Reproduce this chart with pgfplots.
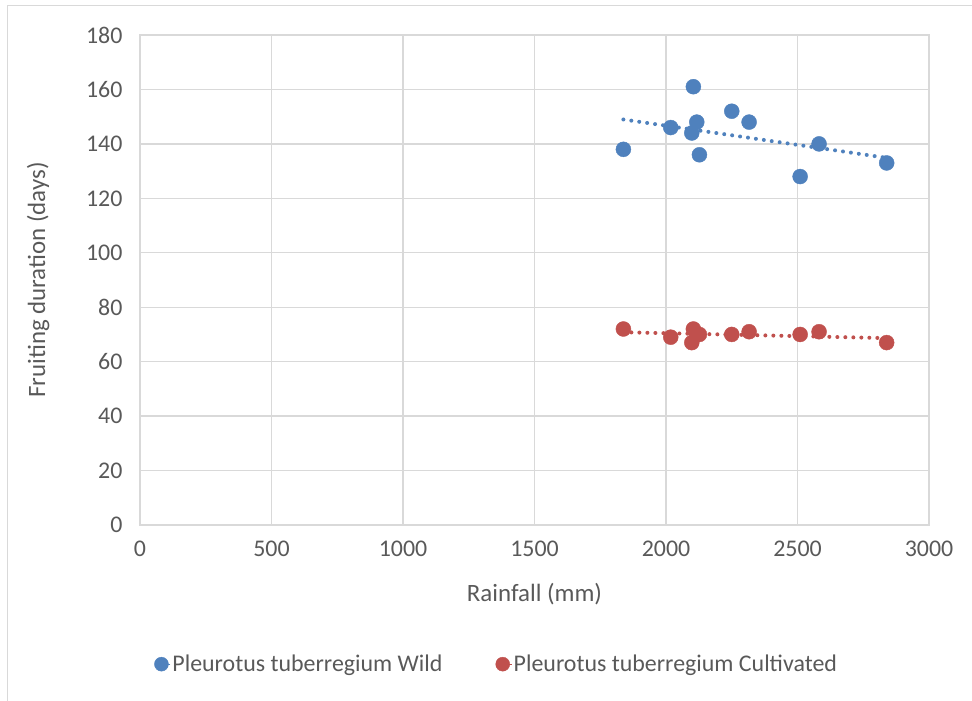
\documentclass[border=0pt]{standalone}
\usepackage{pgfplots}
\pgfplotsset{compat=1.18}
\usepackage{pgfplotstable}
\usepackage{fontspec}
\setmainfont{Carlito}

\definecolor{wildblue}{HTML}{4F81BD}
\definecolor{cultred}{HTML}{C0504D}
\definecolor{gridgray}{HTML}{D9D9D9}
\definecolor{textgray}{HTML}{595959}

% Rainfall (mm) vs fruiting duration (days)
\pgfplotstableread{
rain days
1838 138
2018 146
2104 161
2117 148
2098 144
2127 136
2250 152
2316 148
2510 128
2582 140
2839 133
}\wild

\pgfplotstableread{
rain days
1838 72
2018 69
2104 72
2117 70
2098 67
2127 70
2250 70
2316 71
2510 70
2582 71
2839 67
}\cultivated

\begin{document}
\begin{tikzpicture}
\useasboundingbox (0bp,0bp) rectangle (972bp,701bp);
\draw[gridgray, line width=1bp] (7bp,-10bp) -- (7bp,695bp) -- (990bp,695bp);
\begin{axis}[
  at={(140bp,176bp)}, anchor=south west,
  scale only axis, width=789bp, height=490bp,
  xmin=0, xmax=3000, ymin=0, ymax=180,
  xtick distance=500, ytick distance=20,
  grid=major,
  major grid style={gridgray, line width=1.3bp},
  axis line style={gridgray, line width=1.3bp},
  tick style={draw=none},
  font=\fontsize{24}{28}\selectfont,
  tick label style={textgray},
  /pgf/number format/assume math mode=true,
  /pgf/number format/1000 sep={},
  yticklabel style={xshift=-14bp},
  xticklabel style={yshift=-12bp},
  xlabel={Rainfall (mm)},
  ylabel={Fruiting duration (days)},
  label style={textgray, font=\fontsize{25}{30}\selectfont},
  xlabel style={at={(axis description cs:0.5,-0.141)}, anchor=center},
  ylabel style={at={(axis description cs:-0.129,0.5)}, anchor=center},
  legend columns=2,
  legend style={at={(axis description cs:0.452,-0.284)}, anchor=center,
    draw=none, fill=none, text=textgray,
    /tikz/every even column/.append style={column sep=51bp}},
  legend cell align=left,
  legend image code/.code={%
    \fill[#1] (0.1cm,0cm) circle (7bp);
    \path (0.1cm,0cm) -- ++(8.8bp,0bp);},
]
\addplot[only marks, mark=*, mark size=7.5bp, color=wildblue, fill=wildblue]
  table[x=rain, y=days] {\wild};
\addlegendentry{Pleurotus tuberregium Wild}
\addplot[only marks, mark=*, mark size=7.5bp, color=cultred, fill=cultred]
  table[x=rain, y=days] {\cultivated};
\addlegendentry{Pleurotus tuberregium Cultivated}
% linear trend lines
\addplot[forget plot, no marks, color=wildblue, line width=4bp, line cap=round,
  dash pattern=on 0pt off 8bp]
  table[x=rain, y={create col/linear regression={y=days}}] {\wild};
\addplot[forget plot, no marks, color=cultred, line width=4bp, line cap=round,
  dash pattern=on 0pt off 8bp]
  table[x=rain, y={create col/linear regression={y=days}}] {\cultivated};
\end{axis}
\end{tikzpicture}
\end{document}
